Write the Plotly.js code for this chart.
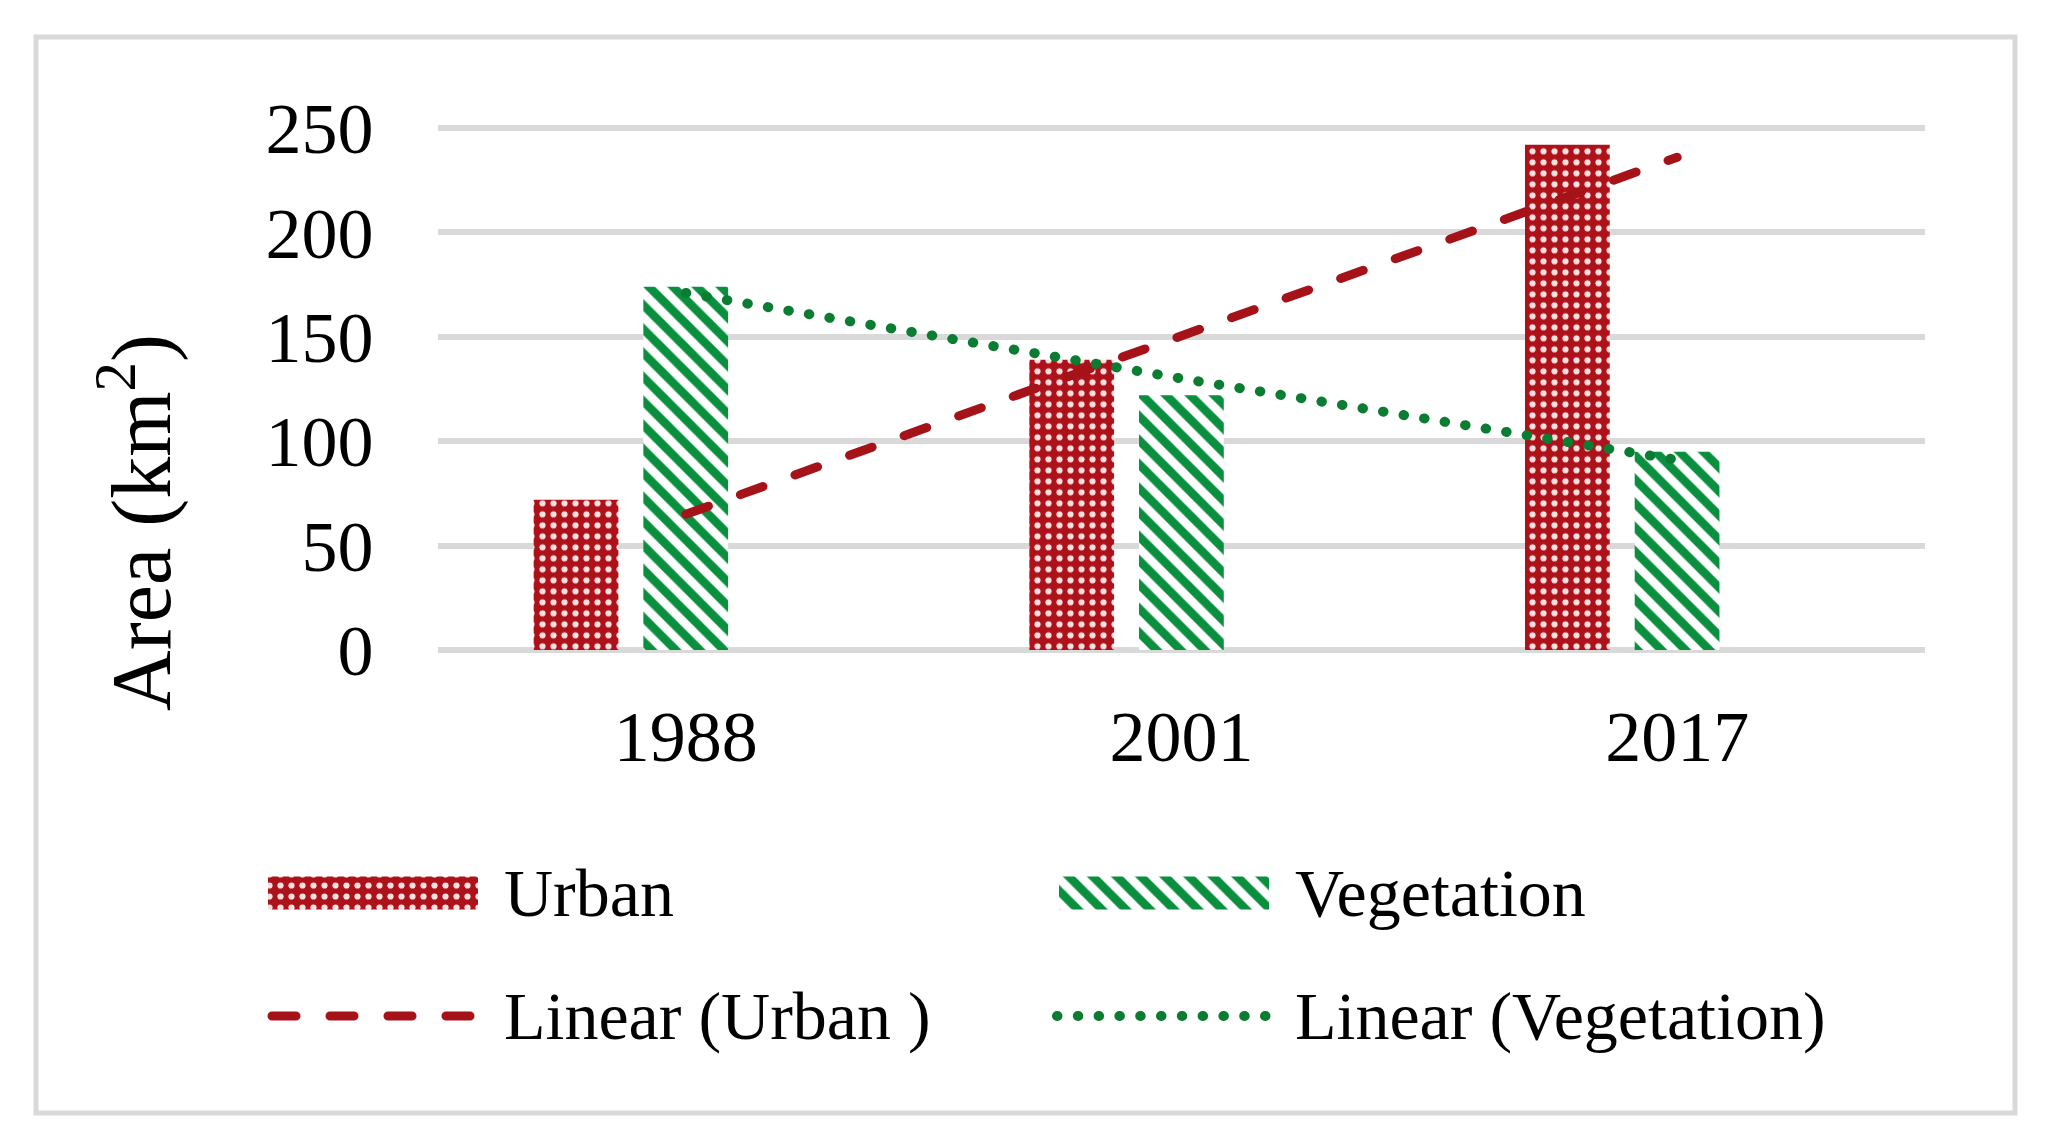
<!DOCTYPE html>
<html>
<head>
<meta charset="utf-8">
<script src="https://cdn.plot.ly/plotly-3.0.1.min.js"></script>
<style>
  html, body { margin: 0; padding: 0; background: #ffffff; }
  #chart { width: 2050px; height: 1146px; }
  .scatterlayer .js-line { stroke-linecap: round; }
</style>
</head>
<body>
<div id="chart"></div>
<script>
// ---- data ----
const years = ['1988', '2001', '2017'];
const urban = [72, 139, 242];
const vegetation = [174, 122, 95];
const urbanTrend = [65, 150, 236];
const vegetationTrend = [171, 130, 91];
const yTicks = [0, 50, 100, 150, 200, 250];
const seriesNames = ['Urban', 'Vegetation', 'Linear (Urban )', 'Linear (Vegetation)'];

// ---- styles ----
const FONT = 'Liberation Serif, Times New Roman, serif';
const W = 2050, H = 1146;
const urbanPattern = { shape: '.', fgcolor: 'rgba(255,235,235,0.95)', bgcolor: '#ad121a', size: 11, solidity: 0.25, fillmode: 'replace' };
const vegPattern = { shape: '\\', fgcolor: '#0a8f3f', bgcolor: '#ffffff', size: 17, solidity: 0.5, fillmode: 'replace' };
const urbanLine = { color: '#a51218', width: 9, dash: '24px,34px' };
const vegLine = { color: '#0b7d33', width: 10, dash: '0.5px,20.3px' };

// y axis pixel mapping: value 0 at 650px, 250 at 128px (padded so edge gridlines draw)
const yPad = 2, pxPerUnit = (650 - 128) / 250;

const barW = 0.171;
const traces = [
  { type: 'bar', name: seriesNames[0], x: years, y: urban, width: barW, offset: -0.307,
    marker: { pattern: urbanPattern, line: { width: 0 } }, showlegend: false },
  { type: 'bar', name: seriesNames[1], x: years, y: vegetation, width: barW, offset: -0.0857,
    marker: { pattern: vegPattern, line: { width: 0 } }, showlegend: false },
  { type: 'scatter', mode: 'lines', name: seriesNames[2], x: years, y: urbanTrend,
    line: urbanLine, showlegend: false },
  { type: 'scatter', mode: 'lines', name: seriesNames[3], x: years, y: vegetationTrend,
    line: vegLine, showlegend: false }
];

// ---- custom legend keys (pixel-like helper axes covering the page) ----
const legendRows = [893, 1016];
const legendCols = [{ key: 268, text: 502 }, { key: 1059, text: 1293 }];
const keyLen = 210, keyH = 33;
traces.push(
  { type: 'bar', orientation: 'h', xaxis: 'x2', yaxis: 'y2', y: [legendRows[0]], x: [keyLen], base: [legendCols[0].key],
    width: [keyH], marker: { pattern: urbanPattern, line: { width: 0 } }, showlegend: false, hoverinfo: 'skip' },
  { type: 'bar', orientation: 'h', xaxis: 'x2', yaxis: 'y2', y: [legendRows[0]], x: [keyLen], base: [legendCols[1].key],
    width: [keyH], marker: { pattern: vegPattern, line: { width: 0 } }, showlegend: false, hoverinfo: 'skip' },
  { type: 'scatter', mode: 'lines', xaxis: 'x2', yaxis: 'y2', x: [legendCols[0].key + 4, legendCols[0].key + keyLen],
    y: [legendRows[1], legendRows[1]], line: urbanLine, showlegend: false, hoverinfo: 'skip' },
  { type: 'scatter', mode: 'lines', xaxis: 'x2', yaxis: 'y2', x: [legendCols[1].key - 2, legendCols[1].key + keyLen + 8],
    y: [legendRows[1], legendRows[1]], line: vegLine, showlegend: false, hoverinfo: 'skip' }
);

const ann = (text, px, py) => ({ text, xref: 'paper', yref: 'paper', x: px / W, y: 1 - py / H,
  xanchor: 'left', yanchor: 'middle', showarrow: false, font: { family: FONT, size: 68, color: '#000' } });

const layout = {
  width: W, height: H,
  margin: { l: 0, r: 0, t: 0, b: 0 },
  paper_bgcolor: '#ffffff', plot_bgcolor: 'rgba(0,0,0,0)',
  barmode: 'overlay',
  showlegend: false,
  font: { family: FONT, color: '#000' },
  xaxis: {
    type: 'category', categoryorder: 'array', categoryarray: years, range: [-0.5, 2.5],
    domain: [438 / W, 1925 / W], showgrid: false, zeroline: false, showline: false,
    ticks: 'outside', ticklen: 19, tickcolor: 'rgba(0,0,0,0)',
    tickfont: { family: FONT, size: 72, color: '#000' }, fixedrange: true
  },
  yaxis: {
    range: [-yPad, 250 + yPad], tickvals: yTicks, ticktext: yTicks.map(String),
    domain: [1 - (650 + yPad * pxPerUnit) / H, 1 - (128 - yPad * pxPerUnit) / H],
    showgrid: true, gridcolor: '#d9d9d9', gridwidth: 6,
    zeroline: false, showline: false,
    ticks: 'outside', ticklen: 49, tickcolor: 'rgba(0,0,0,0)',
    tickfont: { family: FONT, size: 72, color: '#000' }, fixedrange: true
  },
  xaxis2: { domain: [0, 1], range: [0, W], visible: false, anchor: 'y2', fixedrange: true },
  yaxis2: { domain: [0, 1], range: [H, 0], visible: false, anchor: 'x2', fixedrange: true },
  shapes: [
    { type: 'rect', xref: 'paper', yref: 'paper', x0: 36 / W, x1: 2015 / W, y0: 1 - 1113 / H, y1: 1 - 37 / H,
      line: { color: '#d9d9d9', width: 5 }, fillcolor: 'rgba(0,0,0,0)', layer: 'below' }
  ],
  annotations: [
    { text: 'Area (km<sup>2</sup>)', xref: 'paper', yref: 'paper', x: 136 / W, y: 1 - 523 / H,
      xanchor: 'center', yanchor: 'middle', textangle: -90, showarrow: false,
      font: { family: FONT, size: 84, color: '#000' } },
    ann(seriesNames[0], legendCols[0].text, legendRows[0]),
    ann(seriesNames[1], legendCols[1].text, legendRows[0]),
    ann(seriesNames[2], legendCols[0].text, legendRows[1]),
    ann(seriesNames[3], legendCols[1].text, legendRows[1])
  ]
};

Plotly.newPlot('chart', traces, layout, { staticPlot: true, displayModeBar: false });
</script>
</body>
</html>
